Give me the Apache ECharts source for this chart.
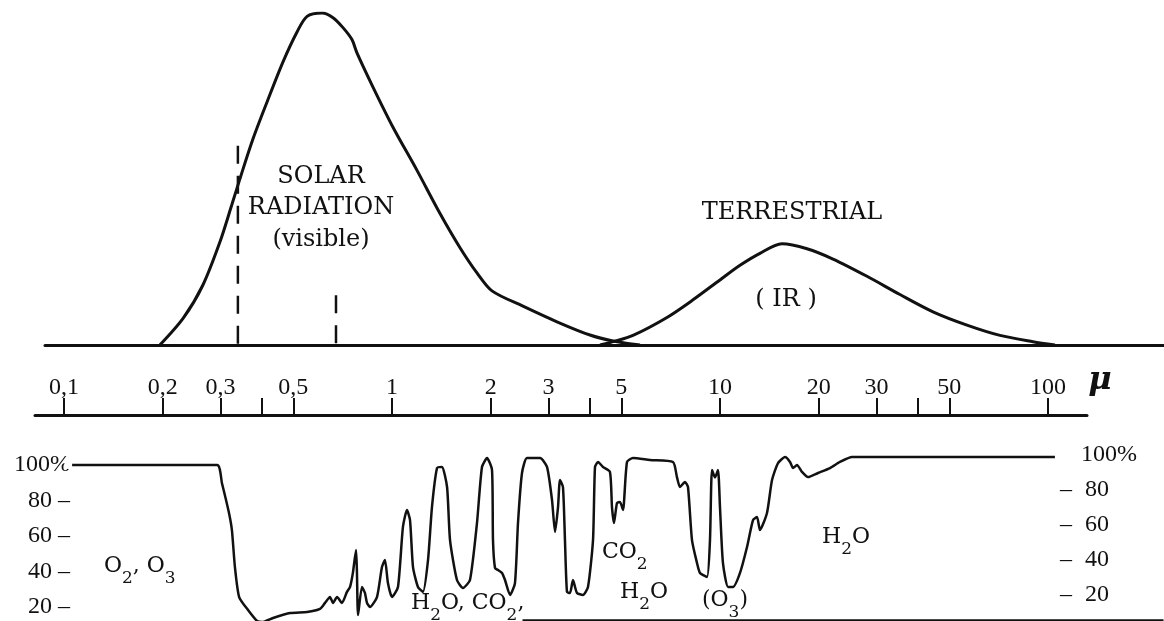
<!DOCTYPE html>
<html>
<head>
<meta charset="utf-8">
<title>Solar / terrestrial radiation and atmospheric absorption</title>
<script src="https://cdn.jsdelivr.net/npm/echarts@6.0.0/dist/echarts.min.js"></script>
<style>
    html, body { margin: 0; padding: 0; background: #fff; overflow: hidden; }
    #main { width: 1164px; height: 621px; }
</style>
</head>
<body>
<div id="main"></div>
<script>
// wavelength in micron, relative intensity (solar peak = 100)
var solarCurve = [
    [0.196, 0], [0.231, 8.1], [0.265, 18.0], [0.299, 31.1], [0.325, 42.3], [0.344, 50.1],
    [0.377, 62.1], [0.416, 73.2], [0.465, 85.2], [0.513, 94.2], [0.551, 99.0], [0.612, 100],
    [0.661, 98.6], [0.709, 95.6], [0.755, 92.0], [0.782, 88.0], [0.875, 77.7], [1.007, 65.6],
    [1.192, 52.6], [1.401, 39.6], [1.612, 29.3], [1.816, 21.7], [2.018, 16.3], [2.508, 11.7],
    [3.184, 7.0], [4.015, 3.0], [4.719, 1.2], [5.703, 0]
];
var earthCurve = [
    [4.307, 0], [4.719, 1.0], [5.430, 2.9], [6.893, 8.3], [8.275, 13.6], [10.0, 19.6],
    [11.51, 24.0], [13.24, 27.6], [15.45, 30.5], [18.42, 29.0], [22.11, 25.9], [28.07, 20.7],
    [35.38, 15.2], [44.61, 10.0], [56.62, 6.0], [71.42, 2.9], [90.0, 1.0], [105.0, 0]
];
// dashed marks of the visible band: wavelength, height
var visibleMarks = [[0.339, 60], [0.675, 15]];

// atmospheric absorption in percent
var absorption = [
    [0.103, 100], [0.293, 100], [0.303, 89.9], [0.318, 73.5], [0.325, 63.4], [0.332, 42.5],
    [0.342, 25.6], [0.364, 18.3], [0.388, 12.1], [0.402, 11.5], [0.434, 13.8], [0.489, 16.6],
    [0.551, 17.2], [0.603, 18.9], [0.625, 22.3], [0.647, 25.6], [0.661, 22.3], [0.680, 25.6],
    [0.704, 22.3], [0.729, 28.5], [0.745, 31.3], [0.760, 39.2], [0.777, 52.1], [0.782, 39.2],
    [0.788, 15.5], [0.810, 31.3], [0.827, 27.9], [0.839, 22.3], [0.857, 20.0], [0.900, 25.6],
    [0.932, 42.5], [0.952, 46.5], [0.972, 33.5], [1.000, 25.6], [1.043, 31.3], [1.080, 65.1],
    [1.111, 74.6], [1.135, 69.0], [1.159, 42.5], [1.200, 31.3], [1.243, 28.5], [1.288, 46.5],
    [1.324, 76.3], [1.372, 98.3], [1.420, 98.9], [1.472, 87.6], [1.503, 57.7], [1.578, 35.2],
    [1.646, 30.7], [1.729, 35.2], [1.816, 67.3], [1.881, 98.9], [1.949, 103.9], [2.018, 97.2],
    [2.032, 57.7], [2.061, 42.0], [2.105, 40.8], [2.165, 39.2], [2.211, 35.2], [2.290, 26.8],
    [2.371, 33.5], [2.422, 67.3], [2.491, 95.5], [2.580, 103.9], [2.827, 103.9], [2.969, 98.9],
    [3.075, 80.3], [3.141, 62.3], [3.208, 76.3], [3.252, 91.5], [3.321, 87.6], [3.368, 57.7],
    [3.416, 28.5], [3.489, 27.9], [3.563, 35.2], [3.664, 27.9], [3.822, 26.8], [3.959, 31.3],
    [4.101, 57.7], [4.159, 98.9], [4.246, 101.7], [4.398, 98.9], [4.619, 96.1], [4.685, 76.3],
    [4.751, 67.3], [4.853, 78.6], [4.956, 79.2], [5.062, 74.6], [5.206, 101.7], [5.430, 103.9],
    [6.117, 102.8], [7.189, 101.7], [7.393, 93.2], [7.551, 87.6], [7.822, 90.4], [7.988, 87.6],
    [8.216, 57.7], [8.510, 44.8], [8.690, 39.2], [9.129, 36.9], [9.322, 57.7], [9.454, 97.2],
    [9.656, 93.0], [9.861, 97.2], [10.0, 76.3], [10.21, 44.8], [10.58, 31.3], [10.96, 31.3],
    [11.51, 39.2], [12.09, 53.8], [12.61, 69.0], [12.97, 70.7], [13.24, 63.4], [13.91, 73.0],
    [14.41, 91.5], [15.03, 101.1], [15.79, 104.5], [16.35, 101.7], [16.70, 98.3], [17.17, 100.0],
    [17.78, 96.1], [18.55, 93.2], [19.90, 95.5], [21.65, 98.3], [23.22, 101.7], [25.26, 104.5],
    [105.0, 104.5]
];
// the cut off lower rule of the absorption panel
var bottomRule = [[2.5, 12.7], [225, 12.7]];

// wavelength scale
var waveTicks = [0.1, 0.2, 0.3, 0.4, 0.5, 1, 2, 3, 4, 5, 10, 20, 30, 40, 50, 100];
var waveLabels = [0.1, 0.2, 0.3, 0.5, 1, 2, 3, 5, 10, 20, 30, 50, 100];
var pctLabels = [20, 40, 60, 80, 100];

var ink = '#111';
var numFont = 'Liberation Serif';
var wordFont = 'DejaVu Serif';

var chart = echarts.init(document.getElementById('main'));

// subscripts for the gas names
var chem = {
    n: { fontFamily: wordFont, fontSize: 22, lineHeight: 22, verticalAlign: 'top' },
    s: { fontFamily: wordFont, fontSize: 17, lineHeight: 17, padding: [15, 0, 0, 0], verticalAlign: 'top' }
};
function gasLabel(text, x, y) {
    return {
        type: 'text',
        x: x,
        y: y,
        silent: true,
        style: { text: text, rich: chem, fill: ink, align: 'left', verticalAlign: 'top' }
    };
}
function plainLabel(text, x, y, lh) {
    return {
        type: 'text',
        x: x,
        y: y,
        silent: true,
        style: {
            text: text, fill: ink, fontFamily: wordFont, fontSize: 24,
            lineHeight: lh || 24, align: 'center', verticalAlign: 'middle'
        }
    };
}

var series = [];
series.push({
    type: 'line', xAxisIndex: 0, yAxisIndex: 0,
    data: solarCurve, symbol: 'none', smooth: 0.3,
    lineStyle: { color: ink, width: 3 }
});
series.push({
    type: 'line', xAxisIndex: 0, yAxisIndex: 0,
    data: earthCurve, symbol: 'none', smooth: 0.3,
    lineStyle: { color: ink, width: 3 }
});
visibleMarks.forEach(function (m) {
    series.push({
        type: 'line', xAxisIndex: 0, yAxisIndex: 0,
        data: [[m[0], m[1]], [m[0], 0]], symbol: 'none',
        lineStyle: { color: ink, width: 2.5, type: [18, 12] }
    });
});
series.push({
    type: 'line', xAxisIndex: 2, yAxisIndex: 2,
    data: absorption.map(function (p, i) {
        // the curve starts with a small ring next to "100%"
        return i === 0 ? { value: p, symbol: 'emptyCircle', symbolSize: 6 } : p;
    }),
    symbol: 'none', smooth: 0.2, clip: false,
    itemStyle: { color: '#fff', borderColor: ink, borderWidth: 1.5 },
    lineStyle: { color: ink, width: 2.5 },
    markLine: {
        silent: true, symbol: 'none', label: { show: false },
        lineStyle: { color: ink, width: 2.5, type: 'solid' },
        data: [[{ coord: bottomRule[0] }, { coord: bottomRule[1] }]]
    }
});

chart.setOption({
    animation: false,
    backgroundColor: '#fff',
    grid: [
        { left: 45, right: 0, top: 13, bottom: 276, outerBoundsMode: 'none', containLabel: false },   // spectra
        { left: 35, right: 77, top: 300, bottom: 206, outerBoundsMode: 'none', containLabel: false },  // scale
        { left: 45, right: 0, top: 447.25, bottom: -21.5, outerBoundsMode: 'none', containLabel: false } // absorption
    ],
    xAxis: [{
        type: 'log', gridIndex: 0, logBase: 10, min: 0.08752, max: 225.8,
        axisLine: { show: true, onZero: false, lineStyle: { color: ink, width: 3 } },
        axisTick: { show: false }, axisLabel: { show: false }, splitLine: { show: false }
    }, {
        type: 'log', gridIndex: 1, logBase: 10, min: 0.08157, max: 131.5,
        axisLine: { show: true, onZero: false, lineStyle: { color: ink, width: 3 } },
        axisTick: { show: true, inside: true, length: 17, customValues: waveTicks, lineStyle: { color: ink, width: 2 } },
        axisLabel: {
            show: true, inside: true, margin: 15, customValues: waveLabels,
            color: ink, fontFamily: numFont, fontSize: 24,
            formatter: function (v) { return String(v).replace('.', ','); }
        },
        splitLine: { show: false }
    }, {
        type: 'log', gridIndex: 2, logBase: 10, min: 0.08752, max: 225.8, show: false
    }],
    yAxis: [{
        type: 'value', gridIndex: 0, min: 0, max: 100, show: false
    }, {
        type: 'value', gridIndex: 1, min: 0, max: 1, show: false
    }, {
        type: 'value', gridIndex: 2, min: 0, max: 110, position: 'left', offset: -25,
        axisLine: { show: false }, axisTick: { show: false }, splitLine: { show: false },
        axisLabel: {
            customValues: pctLabels, margin: 0, align: 'right',
            color: ink, fontFamily: numFont, fontSize: 24,
            formatter: function (v) { return v === 100 ? '100%' : v + ' –'; }
        }
    }, {
        type: 'value', gridIndex: 2, min: -7.14, max: 104.43, position: 'right', offset: -104,
        axisLine: { show: false }, axisTick: { show: false }, splitLine: { show: false },
        axisLabel: {
            customValues: pctLabels, margin: 0, align: 'left',
            color: ink, fontFamily: numFont, fontSize: 24,
            formatter: function (v) { return v === 100 ? '{e|}{n|100%}' : '{d|–}{n|' + v + '}'; },
            rich: {
                d: { width: 25, fontFamily: numFont, fontSize: 24 },
                e: { width: 21, fontFamily: numFont, fontSize: 24 },
                n: { fontFamily: numFont, fontSize: 24 }
            }
        }
    }],
    graphic: [
        plainLabel('SOLAR\nRADIATION\n(visible)', 321, 208, 31.5),
        plainLabel('TERRESTRIAL', 792, 213),
        plainLabel('( IR )', 786, 300),
        {
            // unit of the wavelength scale
            type: 'text', x: 1100, y: 381, silent: true,
            style: {
                text: 'μ', fill: ink, fontFamily: wordFont, fontSize: 32,
                fontStyle: 'italic', fontWeight: 'bold', align: 'center', verticalAlign: 'middle'
            }
        },
        gasLabel('{n|O}{s|2}{n|, O}{s|3}', 104, 555),
        gasLabel('{n|H}{s|2}{n|O, CO}{s|2}{n|,}', 411, 592),
        gasLabel('{n|CO}{s|2}', 602, 541),
        gasLabel('{n|H}{s|2}{n|O}', 620, 581),
        gasLabel('{n|(O}{s|3}{n|)}', 702, 589),
        gasLabel('{n|H}{s|2}{n|O}', 822, 526)
    ],
    series: series
});
</script>
</body>
</html>
